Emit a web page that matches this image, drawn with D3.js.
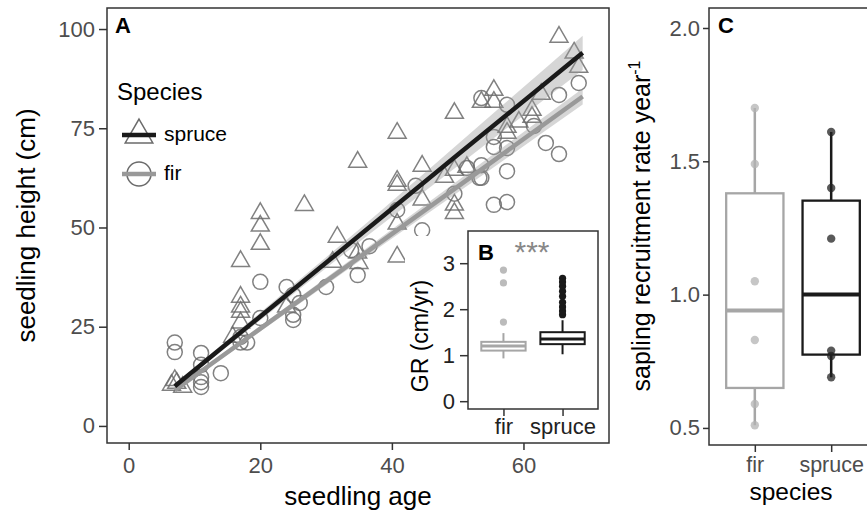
<!DOCTYPE html>
<html>
<head>
<meta charset="utf-8">
<script src="https://cdn.jsdelivr.net/npm/d3@7"></script>
<style>
body { margin: 0; background: #fff; }
svg { display: block; font-family: "Liberation Sans", Arial, sans-serif; }
</style>
</head>
<body>
<div id="chart"></div>
<script>
// --- panel A: seedling age vs height ---
const spruceAge = [6.5, 7.3, 8.2, 7, 15.8, 17, 17, 17, 17, 17, 20, 20, 20, 24, 26.7,
    31, 31.7, 34.8, 34.8, 35, 40.8, 40.8, 40.8, 40.8, 40.8, 44.6, 44.6, 48, 49.5, 49.5,
    49.5, 49.5, 51.4, 53.6, 55.5, 55.5, 57.5, 57.5, 59.3, 61.3, 61.3, 62.7, 65.4, 67.7, 68.4];
const spruceHeight = [10.3, 10.8, 9.8, 11.5, 22.4, 26, 28.7, 30, 32.5, 41.5, 45.8, 50.4, 53.6, 30, 55.6,
    41.3, 47.6, 43.6, 66.5, 41, 42.6, 50.9, 60.7, 61.7, 73.8, 57, 65.5, 62.7, 53.6, 55.7,
    64.5, 78.8, 65.2, 81.6, 81.6, 84.6, 73.8, 75.3, 76.6, 77.8, 79.6, 83.6, 98, 94, 90.4];
const firAge = [7, 7, 11, 11, 11, 11, 11, 14, 17, 17, 18, 20, 20, 24, 25, 25, 25, 26,
    30, 33.8, 34.8, 36.6, 40.8, 43.6, 44.6, 49.5, 51.4, 53.3, 53.6, 53.6, 53.6, 55.5, 55.5,
    55.5, 57.5, 57.5, 57.5, 57.5, 61.6, 63.4, 65.4, 65.4, 68.4];
const firHeight = [21, 18.6, 18.4, 15.4, 12.3, 11, 9.8, 13.3, 21, 22.4, 21, 27.2, 36.3, 35, 33, 28, 26.7, 31,
    35, 44.3, 38, 45.3, 54.4, 60.5, 49.3, 58.5, 65, 62.5, 62.5, 65.7, 82.6, 55.7, 70.3,
    72.8, 56.4, 64.2, 70, 80.9, 75.6, 71.3, 68.5, 83.4, 86.4];

// fitted lines and confidence bands
const fitAges = [7, 20, 35, 50, 69];
const spruceFit = [10, 27.6, 47.9, 68.3, 94];
const spruceLo = [9.5, 26.6, 46.3, 65.5, 89.7];
const spruceHi = [10.5, 28.6, 49.5, 71, 98.3];
const firFit = [9, 24.5, 42.4, 60.3, 83];
const firLo = [8.6, 23.8, 41.4, 58.8, 81];
const firHi = [9.4, 25.2, 43.4, 61.8, 85];

const ageTicks = [0, 20, 40, 60];
const heightTicks = [0, 25, 50, 75, 100];

// --- panel B (inset): growth rate boxplots ---
const species = ['fir', 'spruce'];
const grQ1 = [1.10, 1.24];
const grMedian = [1.20, 1.35];
const grQ3 = [1.29, 1.50];
const grLow = [0.93, 1.02];
const grHigh = [1.48, 1.76];
const grOutliers = [[1.72, 2.57, 2.85], [1.88, 1.96, 2.05, 2.15, 2.28, 2.39, 2.5, 2.59, 2.67]];
const grTicks = [0, 1, 2, 3];

// --- panel C: sapling recruitment rate ---
const recruitFir = [1.70, 1.49, 1.05, 0.83, 0.59, 0.51];
const recruitSpruce = [1.61, 1.40, 1.21, 0.79, 0.77, 0.69];
const recruitTicks = [0.5, 1.0, 1.5, 2.0];

const colors = { spruce: '#1a1a1a', fir: '#a6a6a6' };
const pointGrey = '#6b6b6b';
const tickFont = 22, titleFont = 26;

const svg = d3.select('#chart').append('svg')
    .attr('width', 867)
    .attr('height', 514);

function styleAxis(g) {
    g.select('.domain').remove();
    g.selectAll('.tick line').attr('stroke', '#333').attr('stroke-width', 1.5);
    g.selectAll('.tick text')
        .attr('fill', '#4d4d4d')
        .style('font-size', tickFont + 'px')
        .attr('font-family', null);
}

function frame(g, x0, y0, x1, y1) {
    g.append('rect')
        .attr('x', x0).attr('y', y0)
        .attr('width', x1 - x0).attr('height', y1 - y0)
        .attr('fill', 'none')
        .attr('stroke', '#333')
        .attr('stroke-width', 1.5);
}

// ================= Panel A =================
const A = { left: 107, right: 609, top: 8, bottom: 443 };
const xA = d3.scaleLinear().domain([-3.3, 73]).range([A.left, A.right]);
const yA = d3.scaleLinear().domain([-4.3, 105.3]).range([A.bottom, A.top]);
const gA = svg.append('g');

gA.append('g')
    .attr('transform', `translate(${A.left},0)`)
    .call(d3.axisLeft(yA).tickValues(heightTicks).tickSize(8).tickPadding(4))
    .call(styleAxis);

gA.append('g')
    .attr('transform', `translate(0,${A.bottom})`)
    .call(d3.axisBottom(xA).tickValues(ageTicks).tickSize(7).tickPadding(7))
    .call(styleAxis);

const triangle = d3.symbol().type(d3.symbolTriangle).size(140);

gA.append('g').selectAll('path')
    .data(d3.range(spruceAge.length))
    .join('path')
    .attr('d', triangle)
    .attr('transform', i => `translate(${xA(spruceAge[i])},${yA(spruceHeight[i])})`)
    .attr('fill', 'none')
    .attr('stroke', pointGrey)
    .attr('stroke-opacity', 0.85)
    .attr('stroke-width', 1.5);

gA.append('g').selectAll('circle')
    .data(d3.range(firAge.length))
    .join('circle')
    .attr('cx', i => xA(firAge[i]))
    .attr('cy', i => yA(firHeight[i]))
    .attr('r', 7.5)
    .attr('fill', 'none')
    .attr('stroke', pointGrey)
    .attr('stroke-opacity', 0.85)
    .attr('stroke-width', 1.5);

const band = (lo, hi) => d3.area()
    .x((d, i) => xA(fitAges[i]))
    .y0((d, i) => yA(lo[i]))
    .y1((d, i) => yA(hi[i]))
    .curve(d3.curveMonotoneX)(fitAges);

const fitLine = fit => d3.line()
    .x((d, i) => xA(fitAges[i]))
    .y((d, i) => yA(fit[i]))(fitAges);

gA.append('path').attr('d', band(spruceLo, spruceHi)).attr('fill', '#999').attr('fill-opacity', 0.4);
gA.append('path').attr('d', band(firLo, firHi)).attr('fill', '#999').attr('fill-opacity', 0.4);
gA.append('path').attr('d', fitLine(firFit)).attr('fill', 'none')
    .attr('stroke', '#999').attr('stroke-width', 4.5);
gA.append('path').attr('d', fitLine(spruceFit)).attr('fill', 'none')
    .attr('stroke', colors.spruce).attr('stroke-width', 4.5);

frame(gA, A.left, A.top, A.right, A.bottom);

gA.append('text')
    .attr('x', 115).attr('y', 33)
    .style('font-size', '22px').style('font-weight', 'bold')
    .text('A');

gA.append('text')
    .attr('transform', `translate(35,${(A.top + A.bottom) / 2}) rotate(-90)`)
    .attr('text-anchor', 'middle')
    .style('font-size', titleFont + 'px')
    .text('seedling height (cm)');

gA.append('text')
    .attr('x', (A.left + A.right) / 2).attr('y', 505)
    .attr('text-anchor', 'middle')
    .style('font-size', titleFont + 'px')
    .text('seedling age');

// legend
const legend = gA.append('g');
legend.append('text')
    .attr('x', 117).attr('y', 100)
    .style('font-size', '24px')
    .text('Species');

const legendRows = [
    { key: 'spruce', y: 135, line: colors.spruce },
    { key: 'fir', y: 174, line: '#999' }
];
legendRows.forEach(r => {
    if (r.key === 'spruce') {
        legend.append('path')
            .attr('d', d3.symbol().type(d3.symbolTriangle).size(330)())
            .attr('transform', `translate(139,${r.y})`)
            .attr('fill', 'none').attr('stroke', pointGrey).attr('stroke-width', 1.5);
    } else {
        legend.append('circle')
            .attr('cx', 139).attr('cy', r.y).attr('r', 12)
            .attr('fill', 'none').attr('stroke', pointGrey).attr('stroke-width', 1.5);
    }
    legend.append('line')
        .attr('x1', 122).attr('x2', 156)
        .attr('y1', r.y).attr('y2', r.y)
        .attr('stroke', r.line).attr('stroke-width', 4.5);
    legend.append('text')
        .attr('x', 164).attr('y', r.y + 6)
        .style('font-size', '21px')
        .text(r.key);
});

// ================= Panel B (inset) =================
const B = { left: 468, right: 598, top: 231, bottom: 409 };
const gB = svg.append('g');
gB.append('rect')
    .attr('x', 405).attr('y', 236).attr('width', 202).attr('height', 205)
    .attr('fill', '#fff');

const xB = d3.scalePoint().domain(species).range([B.left, B.right]).padding(0.6);
const yB = d3.scaleLinear().domain([-0.17, 3.7]).range([B.bottom, B.top]);
const boxB = xB.step() * 0.75;

gB.append('g')
    .attr('transform', `translate(${B.left},0)`)
    .call(d3.axisLeft(yB).tickValues(grTicks).tickFormat(d3.format('d')).tickSize(8).tickPadding(5))
    .call(styleAxis)
    .selectAll('.tick text').attr('fill', '#222');

gB.append('g')
    .attr('transform', `translate(0,${B.bottom})`)
    .call(d3.axisBottom(xB).tickSize(7).tickPadding(2))
    .call(styleAxis)
    .selectAll('.tick text').attr('fill', '#222');

species.forEach((s, i) => {
    const cx = xB(s);
    const c = colors[s];
    gB.append('line')
        .attr('x1', cx).attr('x2', cx)
        .attr('y1', yB(grLow[i])).attr('y2', yB(grHigh[i]))
        .attr('stroke', c).attr('stroke-width', 2);
    gB.append('rect')
        .attr('x', cx - boxB / 2).attr('width', boxB)
        .attr('y', yB(grQ3[i])).attr('height', yB(grQ1[i]) - yB(grQ3[i]))
        .attr('fill', '#fff').attr('stroke', c).attr('stroke-width', 2);
    gB.append('line')
        .attr('x1', cx - boxB / 2).attr('x2', cx + boxB / 2)
        .attr('y1', yB(grMedian[i])).attr('y2', yB(grMedian[i]))
        .attr('stroke', c).attr('stroke-width', 3);
    gB.append('g').selectAll('circle')
        .data(grOutliers[i])
        .join('circle')
        .attr('cx', cx).attr('cy', d => yB(d)).attr('r', 3.6)
        .attr('fill', s === 'fir' ? '#bbb' : c);
});

frame(gB, B.left, B.top, B.right, B.bottom);

gB.append('text')
    .attr('x', 478).attr('y', 260)
    .style('font-size', '22px').style('font-weight', 'bold')
    .text('B');

gB.append('text')
    .attr('x', 532).attr('y', 262)
    .attr('text-anchor', 'middle')
    .attr('fill', '#888')
    .style('font-size', '30px')
    .text('***');

gB.append('text')
    .attr('transform', `translate(428,336) rotate(-90)`)
    .attr('text-anchor', 'middle')
    .style('font-size', '23px')
    .text('GR (cm/yr)');

// ================= Panel C =================
const C = { left: 709, right: 877, top: 8, bottom: 445 };
const gC = svg.append('g');
const xC = d3.scalePoint().domain(species).range([C.left, C.right]).padding(0.6);
const yC = d3.scaleLinear().domain([0.436, 2.075]).range([C.bottom, C.top]);
const boxC = xC.step() * 0.75;

gC.append('g')
    .attr('transform', `translate(${C.left},0)`)
    .call(d3.axisLeft(yC).tickValues(recruitTicks).tickFormat(d3.format('.1f')).tickSize(6).tickPadding(3))
    .call(styleAxis);

gC.append('g')
    .attr('transform', `translate(0,${C.bottom})`)
    .call(d3.axisBottom(xC).tickSize(7).tickPadding(5))
    .call(styleAxis)
    .selectAll('.tick text').style('font-size', '21.5px');

[recruitFir, recruitSpruce].forEach((vals, i) => {
    const s = species[i];
    const cx = xC(s);
    const c = colors[s];
    const sorted = vals.slice().sort(d3.ascending);
    const q1 = d3.quantile(sorted, 0.25), med = d3.quantile(sorted, 0.5), q3 = d3.quantile(sorted, 0.75);
    const iqr = q3 - q1;
    const lo = d3.min(sorted.filter(v => v >= q1 - 1.5 * iqr));
    const hi = d3.max(sorted.filter(v => v <= q3 + 1.5 * iqr));
    gC.append('line')
        .attr('x1', cx).attr('x2', cx)
        .attr('y1', yC(lo)).attr('y2', yC(hi))
        .attr('stroke', c).attr('stroke-width', 2.5);
    gC.append('rect')
        .attr('x', cx - boxC / 2).attr('width', boxC)
        .attr('y', yC(q3)).attr('height', yC(q1) - yC(q3))
        .attr('fill', '#fff').attr('stroke', c).attr('stroke-width', 2.3);
    gC.append('line')
        .attr('x1', cx - boxC / 2).attr('x2', cx + boxC / 2)
        .attr('y1', yC(med)).attr('y2', yC(med))
        .attr('stroke', c).attr('stroke-width', 4);
    gC.append('g').selectAll('circle')
        .data(vals)
        .join('circle')
        .attr('cx', cx).attr('cy', d => yC(d)).attr('r', 4.2)
        .attr('fill', s === 'fir' ? '#b3b3b3' : '#222')
        .attr('fill-opacity', 0.75);
});

frame(gC, C.left, C.top, C.right, C.bottom);

gC.append('text')
    .attr('x', 718).attr('y', 33)
    .style('font-size', '22px').style('font-weight', 'bold')
    .text('C');

const yTitleC = gC.append('text')
    .attr('transform', `translate(650,226) rotate(-90)`)
    .attr('text-anchor', 'middle')
    .style('font-size', '25px');
yTitleC.append('tspan').text('sapling recruitment rate year');
yTitleC.append('tspan').attr('dy', -10).style('font-size', '16px').text('-1');

gC.append('text')
    .attr('x', 791).attr('y', 500)
    .attr('text-anchor', 'middle')
    .style('font-size', '24.5px')
    .text('species');
</script>
</body>
</html>
